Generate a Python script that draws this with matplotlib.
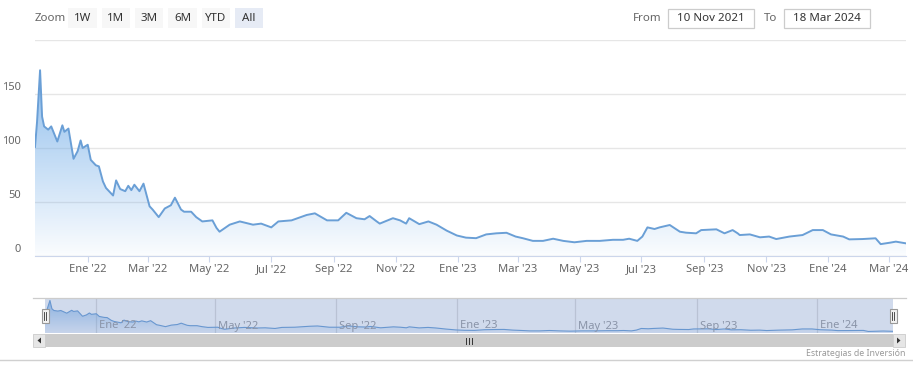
import datetime as dt
import numpy as np
import matplotlib.pyplot as plt
import matplotlib.dates as mdates
import matplotlib.transforms as mtransforms
from matplotlib.patches import Rectangle, Polygon

# price history
dates = ['2021-11-10', '2021-11-12', '2021-11-15', '2021-11-17', '2021-11-19', '2021-11-23',
         '2021-11-26', '2021-12-02', '2021-12-07', '2021-12-09', '2021-12-13', '2021-12-18',
         '2021-12-22', '2021-12-25', '2021-12-27', '2022-01-01', '2022-01-04', '2022-01-09',
         '2022-01-12', '2022-01-16', '2022-01-19', '2022-01-26', '2022-01-29', '2022-02-02',
         '2022-02-07', '2022-02-10', '2022-02-13', '2022-02-16', '2022-02-21', '2022-02-25',
         '2022-03-03', '2022-03-06', '2022-03-12', '2022-03-18', '2022-03-24', '2022-03-28',
         '2022-04-03', '2022-04-06', '2022-04-13', '2022-04-18', '2022-04-24', '2022-05-04',
         '2022-05-08', '2022-05-11', '2022-05-21', '2022-05-31', '2022-06-13', '2022-06-21',
         '2022-07-01', '2022-07-08', '2022-07-21', '2022-08-05', '2022-08-13', '2022-08-25',
         '2022-09-05', '2022-09-13', '2022-09-23', '2022-10-01', '2022-10-06', '2022-10-13',
         '2022-10-16', '2022-10-29', '2022-11-05', '2022-11-11', '2022-11-14', '2022-11-24',
         '2022-12-03', '2022-12-11', '2022-12-21', '2022-12-31', '2023-01-09', '2023-01-19',
         '2023-01-29', '2023-02-08', '2023-02-18', '2023-02-27', '2023-03-06', '2023-03-16',
         '2023-03-26', '2023-04-05', '2023-04-15', '2023-04-26', '2023-05-08', '2023-05-21',
         '2023-06-03', '2023-06-13', '2023-06-19', '2023-06-27', '2023-07-02', '2023-07-07',
         '2023-07-14', '2023-07-19', '2023-07-29', '2023-08-08', '2023-08-14', '2023-08-24',
         '2023-08-29', '2023-09-13', '2023-09-21', '2023-09-29', '2023-10-04', '2023-10-06',
         '2023-10-16', '2023-10-26', '2023-11-04', '2023-11-11', '2023-11-24', '2023-12-07',
         '2023-12-17', '2023-12-27', '2024-01-04', '2024-01-16', '2024-01-22', '2024-02-04',
         '2024-02-17', '2024-02-22', '2024-03-02', '2024-03-08', '2024-03-18']
prices = [101, 124, 172, 129, 120, 117,
          120, 106, 121, 115, 118, 90,
          97, 107, 100, 103, 89, 84,
          83, 69, 63, 56, 70, 62,
          60, 65, 61, 66, 60, 67,
          46, 43, 36, 44, 47, 54,
          43, 41, 41, 36, 32, 33,
          26, 22.5, 29, 32, 29, 30,
          26.5, 32, 33, 38, 39.5, 33,
          33, 40, 35, 34, 37, 32,
          30, 35, 33, 30, 35, 29.5,
          32, 29, 23.5, 19, 17, 16.5,
          20, 21, 21.5, 18, 16.5, 14,
          14, 16, 14, 12.7, 14, 14,
          15, 15, 16, 14, 18, 26.5,
          25, 26.5, 28.7, 22.5, 21.6, 21,
          24, 24.7, 21, 24, 21, 19.4,
          20, 17.3, 18, 15.7, 18, 19.4,
          24, 24, 20, 18, 15.4, 15.7,
          16.4, 11, 12.3, 13.3, 11.7]

y_ticks = [0, 50, 100, 150, 200]
month_es = {1: 'Ene', 3: 'Mar', 5: 'May', 7: 'Jul', 9: 'Sep', 11: 'Nov'}
zoom_buttons = ['1W', '1M', '3M', '6M', 'YTD', 'All']

plt.rcParams['font.family'] = ['Noto Sans', 'DejaVu Sans']

W, H = 913, 372
fig = plt.figure(figsize=(W / 100, H / 100), dpi=100)


def box(l, t, r, b):
    return [l / W, 1 - b / H, (r - l) / W, (b - t) / H]


x = mdates.date2num([dt.date.fromisoformat(d) for d in dates])
y = np.array(prices, dtype=float)
line_col = '#6a9fd6'


def gradient_area(ax, top, a0, a1, lw):
    ax.plot(x, y, color=line_col, lw=lw, zorder=3)
    poly = ax.fill_between(x, y, ax.get_ylim()[0], color='none', lw=0)
    img = np.zeros((256, 1, 4))
    img[..., 0], img[..., 1], img[..., 2] = 0.45, 0.68, 0.91
    img[..., 3] = np.linspace(a0, a1, 256)[:, None]
    im = ax.imshow(img, extent=[x[0], x[-1], ax.get_ylim()[0], top],
                   aspect='auto', origin='upper', zorder=2)
    im.set_clip_path(poly.get_paths()[0], transform=ax.transData)


# main chart
ax = fig.add_axes(box(35, 40, 906, 256))
ax.set_xlim(x[0], x[-1])
ax.set_ylim(0, 200)
gradient_area(ax, y.max(), 0.8, 0.03, 1.4)
ax.set_yticks(y_ticks)
ax.yaxis.grid(True, color='#e6e6e6', lw=1)
ax.set_axisbelow(True)
ax.tick_params(axis='y', length=0, labelleft=False)
for s in ['top', 'right', 'left']:
    ax.spines[s].set_visible(False)
ax.spines['bottom'].set_color('#ccd6eb')
blend = mtransforms.blended_transform_factory(ax.transAxes, ax.transData)
for v in y_ticks[:-1]:
    ax.annotate(str(v), xy=(0, v), xycoords=blend, xytext=(-14, 6),
                textcoords='offset pixels', ha='right', va='center',
                fontsize=8, color='#666666')

tick_dates = [dt.date(yr, m, 1) for yr in (2022, 2023, 2024) for m in month_es
              if dt.date(yr, m, 1) <= dt.date(2024, 3, 18)]
ax.set_xticks(mdates.date2num(tick_dates))
ax.set_xticklabels([f"{month_es[d.month]} '{d.year % 100:02d}" for d in tick_dates])
ax.tick_params(axis='x', length=4, color='#ccd6eb', labelsize=8,
               labelcolor='#666666', pad=2)

# navigator
nav = fig.add_axes(box(45, 298, 893, 333))
rng = y.max() - y.min()
nav.set_ylim(y.min() - rng * 0.05, y.max() + rng * 0.08)
nav.set_xlim(x[0], x[-1])
gradient_area(nav, y.max(), 0.7, 0.1, 0.8)
nav_dates = [dt.date(yr, m, 1) for yr in (2022, 2023, 2024) for m in (1, 5, 9)
             if dt.date(yr, m, 1) <= dt.date(2024, 3, 18)]
for d in nav_dates:
    nx = mdates.date2num(d)
    nav.axvline(nx, color='#dddddd', lw=0.9, zorder=1)
    nav.annotate(f"{'Ene' if d.month == 1 else ('May' if d.month == 5 else 'Sep')} '{d.year % 100:02d}",
                 xy=(nx, 0), xycoords=mtransforms.blended_transform_factory(nav.transData, nav.transAxes),
                 xytext=(3, 7), textcoords='offset pixels', ha='left', va='center',
                 fontsize=8, color='#8a94a8', zorder=5)
nav.add_patch(Rectangle((0, 0), 1, 1, transform=nav.transAxes,
                        facecolor=(102 / 255, 133 / 255, 194 / 255, 0.3), lw=0, zorder=4))
nav.set_xticks([])
nav.set_yticks([])
for s in nav.spines.values():
    s.set_visible(False)

# overlay in pixel coordinates for the UI chrome
ui = fig.add_axes([0, 0, 1, 1], zorder=10)
ui.set_xlim(0, W)
ui.set_ylim(H, 0)
ui.axis('off')
ui.patch.set_alpha(0)

ui.text(35, 18.5, 'Zoom', fontsize=8.3, color='#666666', va='center', ha='left')
bx = [68, 102, 135, 168, 202, 235]
bw = [29, 28, 28, 29, 28, 28]
for lbl, l, w in zip(zoom_buttons, bx, bw):
    sel = lbl == 'All'
    ui.add_patch(Rectangle((l, 8), w, 20, facecolor='#e6ebf5' if sel else '#f7f7f7', lw=0))
    ui.text(l + w / 2, 18.5, lbl, fontsize=8.3, color='#333333', ha='center', va='center',
            fontweight='bold' if sel else 'normal')

ui.text(662, 18.5, 'From', fontsize=8.3, color='#666666', ha='right', va='center')
ui.text(777, 18.5, 'To', fontsize=8.3, color='#666666', ha='right', va='center')
for l, txt in [(668, '10 Nov 2021'), (784, '18 Mar 2024')]:
    ui.add_patch(Rectangle((l, 9), 86, 19, facecolor='white', edgecolor='#cccccc', lw=0.9))
    ui.text(l + 43, 18.5, txt, fontsize=8.3, color='#333333', ha='center', va='center')

# navigator outline and handles
ui.plot([33, 906], [298, 298], color='#cccccc', lw=0.9)
for hx in (45, 893):
    ui.add_patch(Rectangle((hx - 3.5, 309), 7, 14, facecolor='#f2f2f2', edgecolor='#999999', lw=0.8))
    ui.plot([hx - 1, hx - 1], [312, 320], color='#333333', lw=0.6)
    ui.plot([hx + 1, hx + 1], [312, 320], color='#333333', lw=0.6)

# scrollbar
ui.add_patch(Rectangle((33, 334), 873, 13, facecolor='#f2f2f2', lw=0))
ui.add_patch(Rectangle((45, 334), 848, 13, facecolor='#cccccc', lw=0))
for l in (33, 893):
    ui.add_patch(Rectangle((l, 334), 12, 13, facecolor='#e6e6e6', edgecolor='#cccccc', lw=0.6))
ui.add_patch(Polygon([[41, 337.5], [41, 343.5], [37.5, 340.5]], facecolor='#333333', lw=0))
ui.add_patch(Polygon([[897, 337.5], [897, 343.5], [900.5, 340.5]], facecolor='#333333', lw=0))
for gx in (466, 469, 472):
    ui.plot([gx, gx], [337.5, 343.5], color='#333333', lw=0.7)

ui.plot([0, W], [360, 360], color='#d0d0d0', lw=1)
ui.text(906, 353.5, 'Estrategias de Inversión', fontsize=6.3, color='#999999',
        ha='right', va='center')

fig.savefig('out.png', dpi=100)
